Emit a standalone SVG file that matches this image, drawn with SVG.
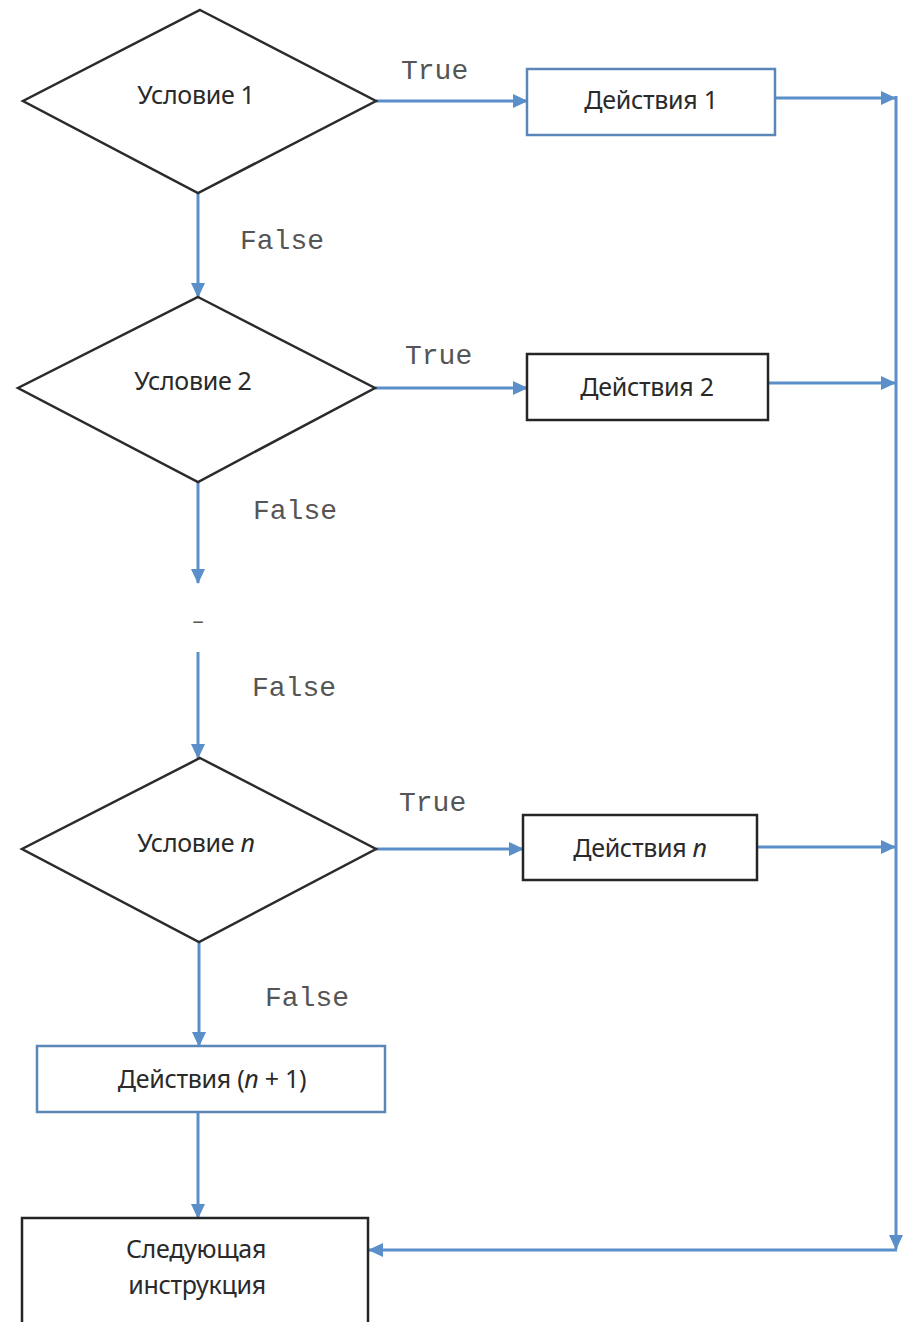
<svg xmlns="http://www.w3.org/2000/svg" width="909" height="1322" viewBox="0 0 909 1322">
<style>
.dia{fill:#fff;stroke:#2b2b2b;stroke-width:2.5}
.boxb{fill:#fff;stroke:#5b87b8;stroke-width:2.5}
.boxd{fill:#fff;stroke:#252525;stroke-width:2.5}
.lbl{font-family:"Noto Sans","Liberation Sans",sans-serif;font-size:25px;fill:#2a2a2a;text-anchor:middle;letter-spacing:-0.3px}
.mono{font-family:"Liberation Mono","Courier New",monospace;font-size:28px;fill:#555}
.con{fill:none;stroke:#5b8fc9;stroke-width:3}
</style>
<defs>
<marker id="ah" markerUnits="userSpaceOnUse" markerWidth="16" markerHeight="16" refX="14" refY="8" orient="auto">
<path d="M0,1 L15,8 L0,15 Z" fill="#5b8fc9"/>
</marker>
</defs>
<rect width="909" height="1322" fill="#fff"/>
<g id="connectors">
<line class="con" x1="376" y1="101" x2="527" y2="101" marker-end="url(#ah)"/>
<line class="con" x1="775" y1="98" x2="895" y2="98" marker-end="url(#ah)"/>
<line class="con" x1="198" y1="193" x2="198" y2="297" marker-end="url(#ah)"/>
<line class="con" x1="375" y1="388" x2="527" y2="388" marker-end="url(#ah)"/>
<line class="con" x1="768" y1="383" x2="895" y2="383" marker-end="url(#ah)"/>
<line class="con" x1="198" y1="482" x2="198" y2="583" marker-end="url(#ah)"/>
<line class="con" x1="198" y1="652" x2="198" y2="758" marker-end="url(#ah)"/>
<line class="con" x1="376" y1="849" x2="523" y2="849" marker-end="url(#ah)"/>
<line class="con" x1="757" y1="847" x2="895" y2="847" marker-end="url(#ah)"/>
<line class="con" x1="199" y1="942" x2="199" y2="1046" marker-end="url(#ah)"/>
<line class="con" x1="198" y1="1112" x2="198" y2="1218" marker-end="url(#ah)"/>
<line class="con" x1="896" y1="96" x2="896" y2="1249" marker-end="url(#ah)"/>
<line class="con" x1="897" y1="1250" x2="369" y2="1250" marker-end="url(#ah)"/>
<text class="mono" x="401" y="79">True</text>
<text class="mono" x="405" y="364">True</text>
<text class="mono" x="399" y="811">True</text>
<text class="mono" x="240" y="249">False</text>
<text class="mono" x="253" y="519">False</text>
<text class="mono" x="252" y="696">False</text>
<text class="mono" x="265" y="1006">False</text>
<text class="mono" x="198" y="628" text-anchor="middle" style="font-size:22px">–</text>
</g>
<g id="cond1">
<polygon class="dia" points="200,10 376,101 198,193 23,101"/>
<text class="lbl" x="196" y="104">Условие 1</text>
</g>
<g id="act1">
<rect class="boxb" x="527" y="69" width="248" height="66"/>
<text class="lbl" x="651" y="109">Действия 1</text>
</g>
<g id="cond2">
<polygon class="dia" points="198,297 375,388 198,482 18,388"/>
<text class="lbl" x="193" y="390">Условие 2</text>
</g>
<g id="act2">
<rect class="boxd" x="527" y="354" width="241" height="66"/>
<text class="lbl" x="647" y="396">Действия 2</text>
</g>
<g id="condn">
<polygon class="dia" points="200,758 376,849 199,942 22,849"/>
<text class="lbl" x="196" y="852">Условие <tspan font-style="italic">n</tspan></text>
</g>
<g id="actn">
<rect class="boxd" x="523" y="815" width="234" height="65"/>
<text class="lbl" x="640" y="857">Действия <tspan font-style="italic">n</tspan></text>
</g>
<g id="actn1">
<rect class="boxb" x="37" y="1046" width="348" height="66"/>
<text class="lbl" x="212" y="1088">Действия (<tspan font-style="italic">n</tspan> + 1)</text>
</g>
<g id="next">
<rect class="boxd" x="22" y="1218" width="346" height="112"/>
<text class="lbl" x="196" y="1258">Следующая</text>
<text class="lbl" x="197" y="1294">инструкция</text>
</g>
</svg>
